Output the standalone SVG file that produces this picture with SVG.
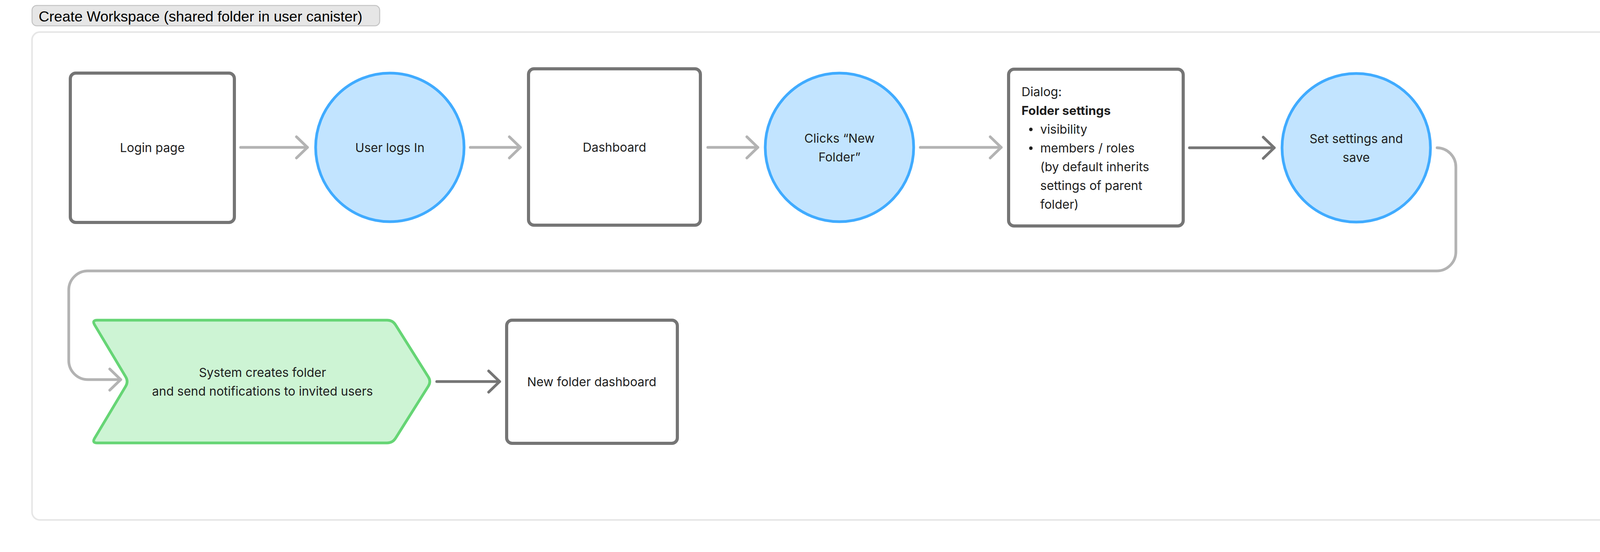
<svg xmlns="http://www.w3.org/2000/svg" width="4672" height="1412" viewBox="0 0 4672 1412">
<style>
.bg{fill:#ffffff}
.frame{fill:#ffffff;stroke:#e6e6e6;stroke-width:4}
.tag{fill:#e6e6e6;stroke:#c4c4c4;stroke-width:2.5}
.tagtxt{font-family:"Liberation Sans",Arial,sans-serif;font-size:37.5px;fill:#000000}
.box{fill:#ffffff;stroke:#757575;stroke-width:8}
.circ{fill:#c2e4ff;stroke:#40abff;stroke-width:7}
.chev{fill:#cdf4d4;stroke:#66d575;stroke-width:7}
.t{font-family:Inter,"Noto Sans","Liberation Sans",sans-serif;font-size:31.5px;fill:#1e1e1e}
.c{text-anchor:middle}
.b{font-weight:700}
.lite{fill:none;stroke:#b3b3b3;stroke-width:7;stroke-linecap:round;stroke-linejoin:round}
.dark{fill:none;stroke:#757575;stroke-width:7;stroke-linecap:round;stroke-linejoin:round}
</style>
<defs>
<marker id="ahL" markerUnits="userSpaceOnUse" viewBox="0 0 44 70" markerWidth="44" markerHeight="70" refX="36" refY="35" orient="auto" overflow="visible">
<path d="M8,8 L36,35 L8,62" fill="none" stroke="#b3b3b3" stroke-width="7" stroke-linecap="round" stroke-linejoin="round"/>
</marker>
<marker id="ahD" markerUnits="userSpaceOnUse" viewBox="0 0 44 70" markerWidth="44" markerHeight="70" refX="36" refY="35" orient="auto" overflow="visible">
<path d="M8,8 L36,35 L8,62" fill="none" stroke="#757575" stroke-width="7" stroke-linecap="round" stroke-linejoin="round"/>
</marker>
</defs>
<rect class="bg" x="0" y="0" width="4672" height="1412"/>

<g id="title">
<rect class="tag" x="82" y="14" width="890" height="52" rx="12"/>
<text class="tagtxt" x="99" y="55">Create Workspace (shared folder in user canister)</text>
</g>

<g id="frame">
<rect class="frame" x="82" y="82" width="4508" height="1248" rx="20"/>
</g>

<g id="connectors">
<path class="lite" d="M616,377 H787" marker-end="url(#ahL)"/>
<path class="lite" d="M1204,377 H1332" marker-end="url(#ahL)"/>
<path class="lite" d="M1812,377 H1940" marker-end="url(#ahL)"/>
<path class="lite" d="M2356,377 H2563" marker-end="url(#ahL)"/>
<path class="dark" d="M3045,378 H3262" marker-end="url(#ahD)"/>
<path class="lite" d="M3679,378 A49,49 0 0 1 3727,427 V644 A49,49 0 0 1 3678,693 H225 A49,49 0 0 0 176,742 V922 A49,49 0 0 0 225,971 H309" marker-end="url(#ahL)"/>
<path class="dark" d="M1118,976 H1279" marker-end="url(#ahD)"/>
</g>

<g id="login-page">
<rect class="box" x="180" y="187" width="420" height="382" rx="14"/>
<text class="t c" x="390" y="389">Login page</text>
</g>

<g id="user-logs-in">
<circle class="circ" cx="998" cy="377" r="190"/>
<text class="t c" x="998" y="389">User logs In</text>
</g>

<g id="dashboard">
<rect class="box" x="1353" y="176" width="440" height="400" rx="14"/>
<text class="t c" x="1573" y="388">Dashboard</text>
</g>

<g id="clicks-new-folder">
<circle class="circ" cx="2149" cy="377" r="190"/>
<text class="t c" x="2149" y="365">Clicks “New</text>
<text class="t c" x="2149" y="413">Folder”</text>
</g>

<g id="dialog-folder-settings">
<rect class="box" x="2582" y="177" width="447" height="401" rx="14"/>
<text class="t" x="2615" y="246">Dialog:</text>
<text class="t b" x="2615" y="294">Folder settings</text>
<circle cx="2639" cy="331" r="4.5" fill="#1e1e1e"/>
<text class="t" x="2663" y="342">visibility</text>
<circle cx="2639" cy="379" r="4.5" fill="#1e1e1e"/>
<text class="t" x="2663" y="390">members / roles</text>
<text class="t" x="2663" y="438">(by default inherits</text>
<text class="t" x="2663" y="486">settings of parent</text>
<text class="t" x="2663" y="534">folder)</text>
</g>

<g id="set-settings-and-save">
<circle class="circ" cx="3472" cy="378" r="190"/>
<text class="t c" x="3472" y="366">Set settings and</text>
<text class="t c" x="3472" y="414">save</text>
</g>

<g id="system-creates-folder">
<path class="chev" d="M249,819 L991,819 Q1005,819 1012.5,830.8 L1096.5,964.2 Q1104,976 1096.5,987.8 L1012.5,1121.2 Q1005,1133 991,1133 L249,1133 Q235,1133 242.2,1121 L321.8,988 Q329,976 321.8,964 L242.2,831 Q235,819 249,819 Z"/>
<text class="t c" x="672" y="964">System creates folder</text>
<text class="t c" x="672" y="1012">and send notifications to invited users</text>
</g>

<g id="new-folder-dashboard">
<rect class="box" x="1297" y="819" width="437" height="315" rx="14"/>
<text class="t c" x="1515" y="988">New folder dashboard</text>
</g>
</svg>
